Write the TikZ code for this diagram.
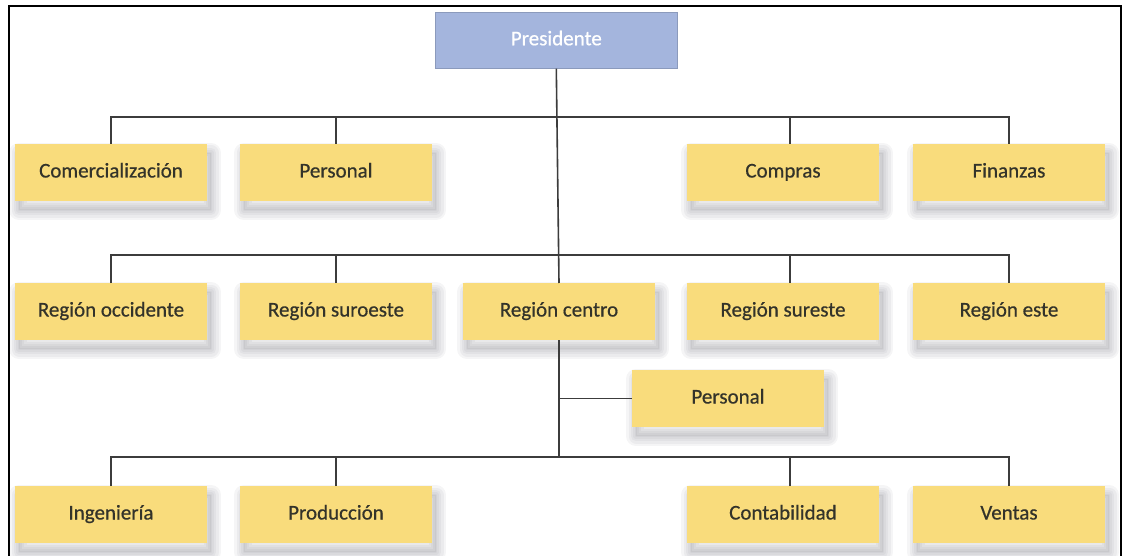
\documentclass[tikz,border=0pt]{standalone}
\usepackage{fontspec}
\setmainfont{Carlito}
\newfontfamily\boxfont{Carlito}[FakeBold=0.6]
\definecolor{unitfill}{HTML}{F9DC7C}
\definecolor{headfill}{HTML}{A4B5DD}
\definecolor{inktext}{HTML}{33332A}
\definecolor{linkgray}{HTML}{3C3C3C}
\definecolor{shadowgray}{HTML}{5A5A66}
\begin{document}
\begin{tikzpicture}[x=1pt,y=-1pt,
  boxtext/.style={font=\boxfont\fontsize{21}{24}\selectfont,text height=14pt,text depth=4pt},
  % soft drop shadow built from stacked translucent strokes
  softring/.style={preaction={draw=shadowgray,draw opacity=0.06,line width=#1,line join=round,
      transform canvas={xshift=4pt,yshift=-9pt}}},
  softshadow/.style={preaction={fill=shadowgray,fill opacity=0.08,
      transform canvas={xshift=4pt,yshift=-9pt}},
    softring=20pt,softring=15pt,softring=10pt,softring=6pt,softring=2pt},
  unit/.style={anchor=north west,fill=unitfill,draw=none,inner sep=0pt,outer sep=0pt,
    minimum width=192pt,minimum height=57pt,text=inktext,boxtext,softshadow},
  head/.style={anchor=north west,fill=headfill,draw=headfill!85!black,line width=0.6pt,inner sep=0pt,
    minimum width=242pt,minimum height=56pt,text=white,boxtext},
  link/.style={draw=linkgray,line width=1.6pt},
  frameline/.style={draw=black,line width=2pt}]
\useasboundingbox (0,0) rectangle (1123,556);
\fill[white] (0,0) rectangle (1123,556);
% outer frame (open at the bottom)
\draw[frameline] (9,556) -- (9,6) -- (1121,6) -- (1121,556);

% head of the organisation
\node[head] (pres) at (435,12) {Presidente};

% staff units
\node[unit] (com) at (15,144) {Comercialización};
\node[unit] (per) at (240,144) {Personal};
\node[unit] (cmp) at (687,144) {Compras};
\node[unit] (fin) at (913,144) {Finanzas};

% regions
\node[unit] (rocc) at (15,283) {Región occidente};
\node[unit] (rsuo) at (240,283) {Región suroeste};
\node[unit] (rcen) at (463,283) {Región centro};
\node[unit] (rsur) at (687,283) {Región sureste};
\node[unit] (rest) at (913,283) {Región este};

% units of the central region
\node[unit] (rper) at (632,370) {Personal};
\node[unit] (ing) at (15,486) {Ingeniería};
\node[unit] (prod) at (240,486) {Producción};
\node[unit] (cont) at (687,486) {Contabilidad};
\node[unit] (vent) at (913,486) {Ventas};

% bus levels
\coordinate (bus1) at (559,117);
\coordinate (bus2) at (559,255);
\coordinate (bus3) at (559,457);

% main trunk
\draw[link] (pres.south) -- (rcen.north);
\draw[link] (rcen.south) -- (bus3);

% staff bus
\draw[link] (com.north) |- (bus1);
\draw[link] (per.north) |- (bus1);
\draw[link] ([xshift=7pt]cmp.north) |- (bus1);
\draw[link] (fin.north) |- (bus1);

% region bus
\draw[link] (rocc.north) |- (bus2);
\draw[link] (rsuo.north) |- (bus2);
\draw[link] ([xshift=7pt]rsur.north) |- (bus2);
\draw[link] (rest.north) |- (bus2);

% central region units
\draw[link] (rper.west) -- (rper.west -| bus3);
\draw[link] (ing.north) |- (bus3);
\draw[link] (prod.north) |- (bus3);
\draw[link] ([xshift=7pt]cont.north) |- (bus3);
\draw[link] (vent.north) |- (bus3);
\end{tikzpicture}
\end{document}
